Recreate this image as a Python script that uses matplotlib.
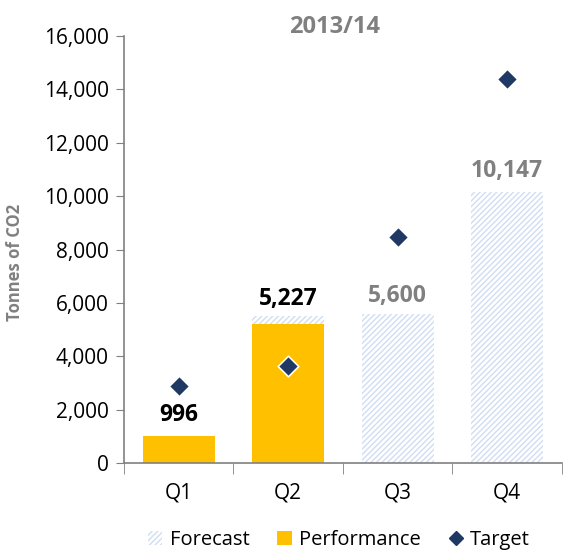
import matplotlib
matplotlib.use("Agg")
import matplotlib.pyplot as plt
from matplotlib.patches import Patch
from matplotlib.lines import Line2D
import numpy as np

plt.rcParams["font.family"] = ["Open Sans", "DejaVu Sans"]
plt.rcParams["hatch.linewidth"] = 1.0

quarters = ["Q1", "Q2", "Q3", "Q4"]
forecast = [996, 5500, 5600, 10147]
performance = [996, 5227, None, None]
target = [2900, 3650, 8450, 14400]
labels = ["996", "5,227", "5,600", "10,147"]
label_vals = [996, 5500, 5600, 10147]
label_colors = ["black", "black", "#808080", "#808080"]
yticks = [0, 2000, 4000, 6000, 8000, 10000, 12000, 14000, 16000]

navy = "#1f3864"
gold = "#ffc000"
hatch_col = "#d0ddf2"
gray = "#808080"

fig = plt.figure(figsize=(5.65, 5.52), dpi=100)
ax = fig.add_axes([0.2195, 0.1612, 0.775, 0.7736])

x = np.arange(len(quarters))
w = 0.66

ax.bar(x, forecast, width=w, color="white", edgecolor=hatch_col, hatch="//////", linewidth=0, zorder=1)
perf_x = [i for i, v in enumerate(performance) if v is not None]
perf_v = [v for v in performance if v is not None]
ax.bar(perf_x, perf_v, width=w, color=gold, linewidth=0, zorder=2)
ax.scatter(x, target, marker="D", s=110, color=navy, edgecolor="white", linewidth=1.2, zorder=4)

for i, (lab, v, c) in enumerate(zip(labels, label_vals, label_colors)):
    off = 800 if i in (0, 3) else 650
    ax.text(i, v + off, lab, ha="center", va="center", fontsize=16.5, fontweight="bold", color=c)

ax.set_xlim(-0.5, 3.5)
ax.set_ylim(0, 16000)
ax.set_yticks(yticks)
ax.set_yticklabels([f"{t:,}" for t in yticks], fontsize=15)
ax.set_xticks(x)
ax.set_xticklabels(quarters, fontsize=15)
ax.set_xticks(np.arange(-0.5, 4.0, 1.0), minor=True)
ax.tick_params(axis="x", which="major", length=0, pad=14)
ax.tick_params(axis="x", which="minor", length=8, direction="out", color=gray)
ax.tick_params(axis="y", length=6, direction="out", color=gray, pad=5)

for s in ["top", "right"]:
    ax.spines[s].set_visible(False)
for s in ["left", "bottom"]:
    ax.spines[s].set_color(gray)
    ax.spines[s].set_linewidth(1.2)

ax.set_ylabel("Tonnes of CO2", fontsize=12, fontweight="bold", color=gray)
ax.yaxis.set_label_coords(-0.228, 0.47)
fig.text(0.593, 0.951, "2013/14", ha="center", va="center", fontsize=17, fontweight="bold", color=gray)

handles = [
    Patch(facecolor="white", edgecolor=hatch_col, hatch="//////", linewidth=0, label="Forecast"),
    Patch(facecolor=gold, linewidth=0, label="Performance"),
    Line2D([], [], marker="D", linestyle="none", markersize=7, color=navy, label="Target"),
]
fig.legend(handles=handles, loc="lower center", bbox_to_anchor=(0.6, -0.03), ncol=3, frameon=False,
           fontsize=14.5, handlelength=0.7, handleheight=0.7, handletextpad=0.35, columnspacing=1.4)

fig.savefig("out.png", dpi=100)
